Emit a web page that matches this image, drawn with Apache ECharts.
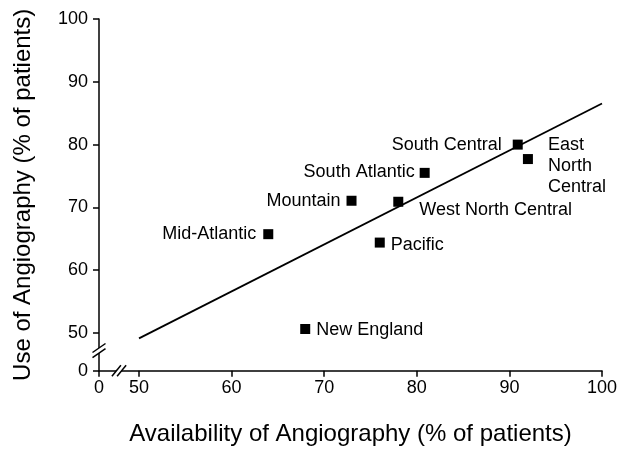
<!DOCTYPE html>
<html>
<head>
<meta charset="utf-8">
<script src="https://cdn.jsdelivr.net/npm/echarts@6/dist/echarts.min.js"></script>
<style>html,body{margin:0;padding:0;background:#fff;}#main{width:620px;height:449px;}</style>
</head>
<body>
<div id="main"></div>
<script>
// ---- data ----
const regions = ['New England', 'Mid-Atlantic', 'Mountain', 'Pacific', 'West North Central', 'South Atlantic', 'South Central', 'East North Central'];
const availability = [67.95, 63.96, 72.95, 76.0, 78.0, 80.85, 90.9, 92.0];
const useOfAngio = [50.64, 65.74, 71.06, 64.4, 70.9, 75.5, 80.0, 77.7];
const fitX = [50, 100];
const fitY = [49.15, 86.55];
const xTickLabels = [0, 50, 60, 70, 80, 90, 100];
const yTickLabels = [0, 50, 60, 70, 80, 90, 100];

// axis-break layout (where the broken "0" sits on each scale)
const X_START = 45.68, Y_START = 44.0;
const X_BREAK = 47.84, Y_BREAK = 47.2;

const FONT = "'Liberation Sans', Arial, Helvetica, sans-serif";
const labelLayout = {
  'New England': { position: 'right', distance: 6, offset: [0, 1] },
  'Mid-Atlantic': { position: 'left', distance: 7, offset: [0, 0] },
  'Mountain': { position: 'left', distance: 6, offset: [0, 0] },
  'Pacific': { position: 'right', distance: 6, offset: [0, 2] },
  'West North Central': { position: 'right', distance: 16, offset: [0, 8] },
  'South Atlantic': { position: 'left', distance: 5, offset: [0, -1] },
  'South Central': { position: 'left', distance: 11, offset: [0, 0] },
  'East North Central': { position: 'right', distance: 15, offset: [0, 7], text: 'East\nNorth\nCentral' }
};

const toX = v => (v === 0 ? X_START : v);
const toY = v => (v === 0 ? Y_START : v);
const xTickVals = xTickLabels.map(toX);
const yTickVals = yTickLabels.map(toY);

const points = regions.map((name, i) => {
  const l = labelLayout[name];
  return {
    name: name,
    value: [availability[i], useOfAngio[i]],
    label: {
      position: l.position, distance: l.distance, offset: l.offset,
      formatter: l.text || '{b}', align: l.position === 'left' ? 'right' : 'left'
    }
  };
});

const chart = echarts.init(document.getElementById('main'), null, { renderer: 'canvas' });
const axisCommon = {
  type: 'value',
  nameLocation: 'middle',
  nameTextStyle: { fontFamily: FONT, fontSize: 24, color: '#000' },
  splitLine: { show: false },
  axisLine: { show: true, lineStyle: { color: '#000', width: 1.5 } },
  axisTick: { show: true, inside: false, length: 6, lineStyle: { color: '#000', width: 1.5 } },
};
chart.setOption({
  animation: false,
  backgroundColor: '#fff',
  grid: { left: 99, right: 18, top: 19, bottom: 78.3, containLabel: false, outerBoundsMode: 'none' },
  xAxis: Object.assign({}, axisCommon, {
    min: X_START, max: 100,
    name: 'Availability of Angiography (% of patients)',
    nameGap: 52,
    axisTick: Object.assign({}, axisCommon.axisTick, { customValues: xTickVals }),
    axisLabel: {
      customValues: xTickVals, margin: 8, showMinLabel: true, showMaxLabel: true,
      fontFamily: FONT, fontSize: 18, color: '#000',
      formatter: v => String(xTickLabels[xTickVals.findIndex(t => Math.abs(t - v) < 1e-6)])
    }
  }),
  yAxis: Object.assign({}, axisCommon, {
    min: Y_START, max: 100,
    name: 'Use of Angiography (% of patients)',
    nameGap: 64,
    axisTick: Object.assign({}, axisCommon.axisTick, { customValues: yTickVals }),
    axisLabel: {
      customValues: yTickVals, margin: 11, showMinLabel: true, showMaxLabel: true,
      fontFamily: FONT, fontSize: 18, color: '#000',
      formatter: v => String(yTickLabels[yTickVals.findIndex(t => Math.abs(t - v) < 1e-6)])
    }
  }),
  series: [
    {
      type: 'line',
      data: fitX.map((x, i) => [x, fitY[i]]),
      symbol: 'none',
      lineStyle: { color: '#000', width: 1.8 },
      silent: true, z: 2
    },
    {
      type: 'scatter',
      data: points,
      symbol: 'rect',
      symbolSize: 10,
      itemStyle: { color: '#000', opacity: 1 },
      label: { show: true, fontFamily: FONT, fontSize: 18, color: '#000', lineHeight: 21 },
      emphasis: { disabled: true },
      z: 3
    }
  ]
});

// axis break marks
function breakMarks() {
  const py = chart.convertToPixel({ gridIndex: 0 }, [X_START, Y_BREAK]);
  const px = chart.convertToPixel({ gridIndex: 0 }, [X_BREAK, Y_START]);
  const els = [];
  const ls = { stroke: '#000', lineWidth: 1.5 };
  // y-axis break: two slashes stacked vertically
  {
    const cx = py[0], cy = py[1], hw = 6.5, hh = 4.5, s = 2.6;
    els.push({ type: 'polygon', z: 100, shape: { points: [[cx - hw, cy - s + hh], [cx + hw, cy - s - hh], [cx + hw, cy + s - hh], [cx - hw, cy + s + hh]] }, style: { fill: '#fff' } });
    [-s, s].forEach(o => els.push({ type: 'line', z: 101, shape: { x1: cx - hw, y1: cy + o + hh, x2: cx + hw, y2: cy + o - hh }, style: ls }));
  }
  // x-axis break: two slashes side by side
  {
    const cx = px[0], cy = px[1], hw = 4.5, hh = 5.5, s = 2.6;
    els.push({ type: 'polygon', z: 100, shape: { points: [[cx - s - hw, cy + hh], [cx - s + hw, cy - hh], [cx + s + hw, cy - hh], [cx + s - hw, cy + hh]] }, style: { fill: '#fff' } });
    [-s, s].forEach(o => els.push({ type: 'line', z: 101, shape: { x1: cx + o - hw, y1: cy + hh, x2: cx + o + hw, y2: cy - hh }, style: ls }));
  }
  chart.setOption({ graphic: els });
}
breakMarks();
</script>
</body>
</html>
